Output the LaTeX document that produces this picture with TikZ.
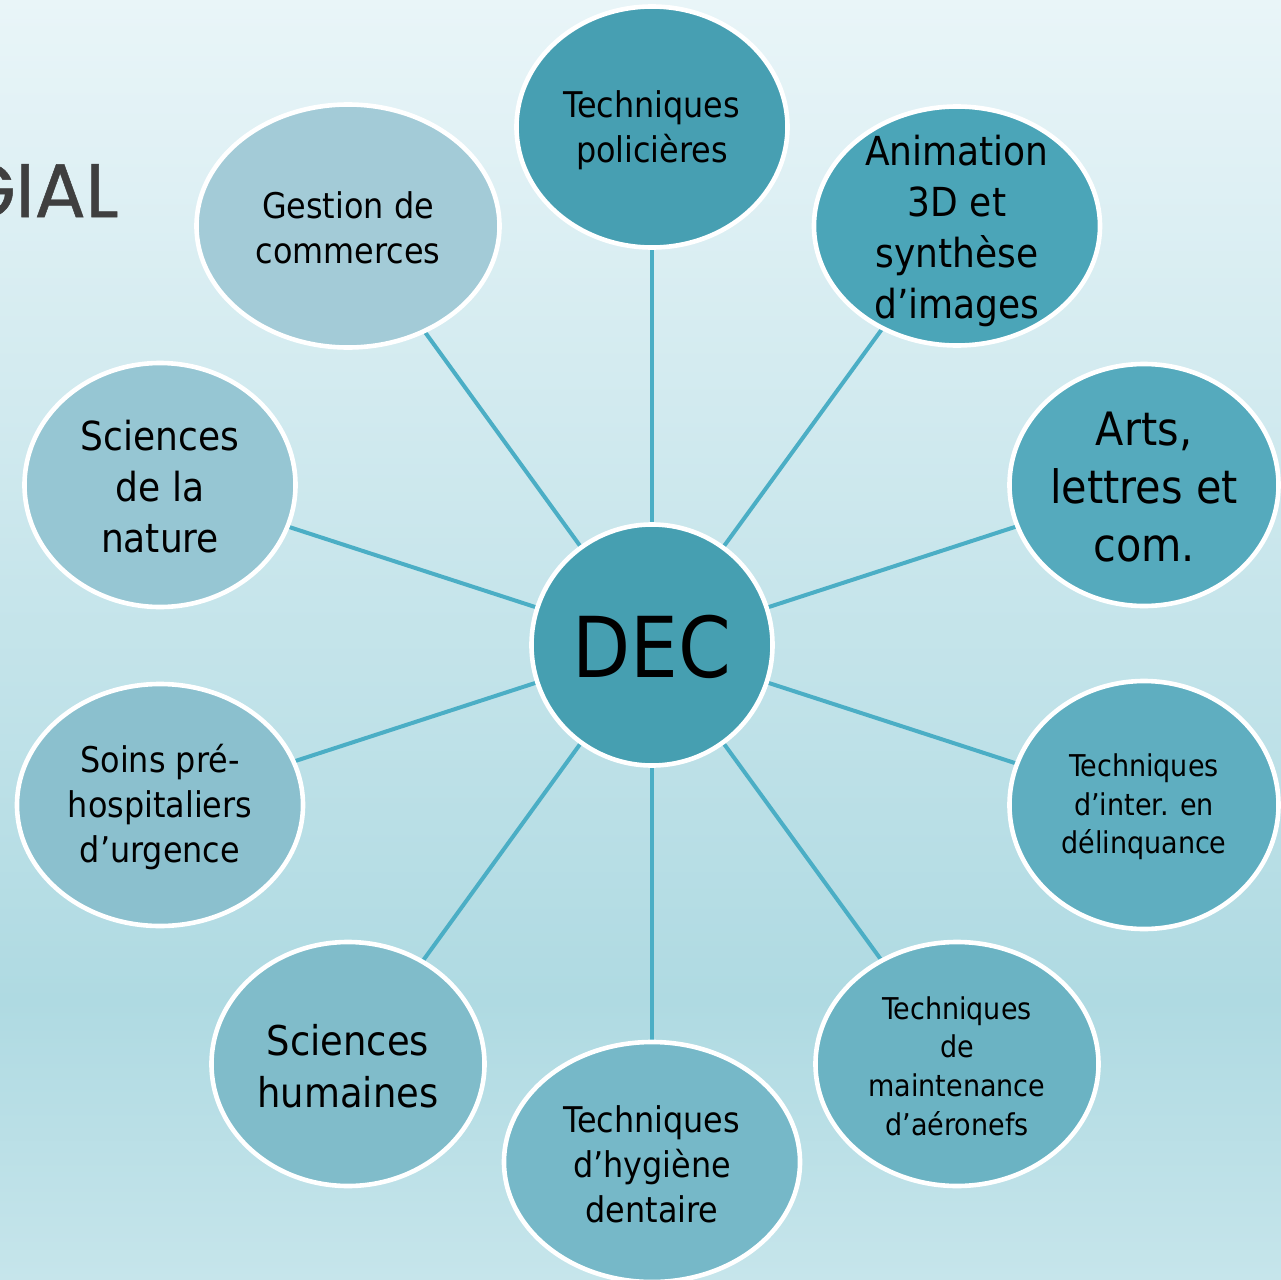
\documentclass[tikz,border=0pt]{standalone}
\usepackage{fontspec}
\setmainfont{DejaVu Sans Condensed}
\newfontfamily\gialfont{Poppins}[FakeBold=0.6]
\usetikzlibrary{shapes.geometric}
\pgfdeclarelayer{bg}
\pgfdeclarelayer{links}
\pgfsetlayers{bg,links,main}
\definecolor{bgtop}{HTML}{E9F5F8}
\definecolor{bgmid}{HTML}{AFDAE2}
\definecolor{bgbot}{HTML}{C6E5EB}
\definecolor{linkc}{HTML}{4BAEC5}
\definecolor{gialc}{HTML}{3F3F3F}
\definecolor{cdec}{HTML}{469FB1}
\definecolor{cpol}{HTML}{479FB2}
\definecolor{canim}{HTML}{4BA5B8}
\definecolor{carts}{HTML}{55AABD}
\definecolor{cinter}{HTML}{5FAEC0}
\definecolor{cmaint}{HTML}{6BB3C3}
\definecolor{chyg}{HTML}{76B8C8}
\definecolor{csh}{HTML}{80BCCA}
\definecolor{csoins}{HTML}{8BC0CE}
\definecolor{csn}{HTML}{96C6D3}
\definecolor{cgest}{HTML}{A3CBD7}
\begin{document}
\begin{tikzpicture}[x=0.5pt,y=-0.5pt,
  bubble/.style={ellipse,draw=white,line width=2.3pt,inner sep=0pt},
  lbl/.style={align=center,text=black,inner sep=0pt,yshift=-1pt},
  smalltxt/.style={font=\fontsize{15}{19.3}\selectfont},
  midtxt/.style={font=\fontsize{17.7}{22.5}\selectfont},
  bigtxt/.style={font=\fontsize{20}{25.5}\selectfont},
  hugetxt/.style={font=\fontsize{23}{29}\selectfont},
  link/.style={draw=linkc,line width=2pt}]
\useasboundingbox (0,0) rectangle (1281,1280);
\begin{pgfonlayer}{bg}
  \fill[top color=bgtop,bottom color=bgmid] (0,0) rectangle (1281,1001);
  \fill[top color=bgmid,bottom color=bgbot] (0,1000) rectangle (1281,1280);
\end{pgfonlayer}
\clip (0,0) rectangle (1281,1280);

\node[anchor=south east,inner sep=0pt,text=gialc,font=\gialfont\fontsize{38}{40}\selectfont] (gial) at (119,218) {GIAL};

% centre
\node[bubble,fill=cdec,minimum width=120.5pt,minimum height=120.5pt] (dec) at (652,645) {};
\node[lbl,font=\fontsize{42}{48}\selectfont] (dec-t) at (dec) {DEC};

% outer bubbles
\node[bubble,fill=cpol,minimum width=135.5pt,minimum height=120.5pt] (pol) at (652,127) {};
\node[lbl,midtxt,yshift=-0.5pt] (pol-t) at (pol) {Techniques\\policières};

\node[bubble,fill=canim,minimum width=143pt,minimum height=119.5pt] (anim) at (957,226) {};
\node[lbl,bigtxt,yshift=-1.5pt] (anim-t) at (anim) {Animation\\3D et\\synthèse\\d’images};

\node[bubble,fill=carts,minimum width=134.5pt,minimum height=121pt] (arts) at (1144,485) {};
\node[lbl,hugetxt] (arts-t) at (arts) {Arts,\\lettres et\\com.};

\node[bubble,fill=cinter,minimum width=134.5pt,minimum height=124pt] (inter) at (1144,805) {};
\node[lbl,smalltxt] (inter-t) at (inter) {Techniques\\d’inter. en\\délinquance};

\node[bubble,fill=cmaint,minimum width=141.5pt,minimum height=122pt] (maint) at (957,1064) {};
\node[lbl,smalltxt] (maint-t) at (maint) {Techniques\\de\\maintenance\\d’aéronefs};

\node[bubble,fill=chyg,minimum width=148pt,minimum height=120pt] (hyg) at (652,1162) {};
\node[lbl,midtxt] (hyg-t) at (hyg) {Techniques\\d’hygiène\\dentaire};

\node[bubble,fill=csh,minimum width=136.5pt,minimum height=122pt] (sh) at (348,1064) {};
\node[lbl,font=\fontsize{20.5}{26}\selectfont] (sh-t) at (sh) {Sciences\\humaines};

\node[bubble,fill=csoins,minimum width=143pt,minimum height=121pt] (soins) at (160,805) {};
\node[lbl,midtxt] (soins-t) at (soins) {Soins pré-\\hospitaliers\\d’urgence};

\node[bubble,fill=csn,minimum width=135.5pt,minimum height=122pt] (sn) at (160,485) {};
\node[lbl,bigtxt] (sn-t) at (sn) {Sciences\\de la\\nature};

\node[bubble,fill=cgest,minimum width=151.5pt,minimum height=121.5pt] (gest) at (348,226) {};
\node[lbl,midtxt] (gest-t) at (gest) {Gestion de\\commerces};

\begin{pgfonlayer}{links}
  \foreach \n in {pol,anim,arts,inter,maint,hyg,sh,soins,sn,gest}
    \draw[link] (dec.center) -- (\n.center);
\end{pgfonlayer}
\end{tikzpicture}
\end{document}
